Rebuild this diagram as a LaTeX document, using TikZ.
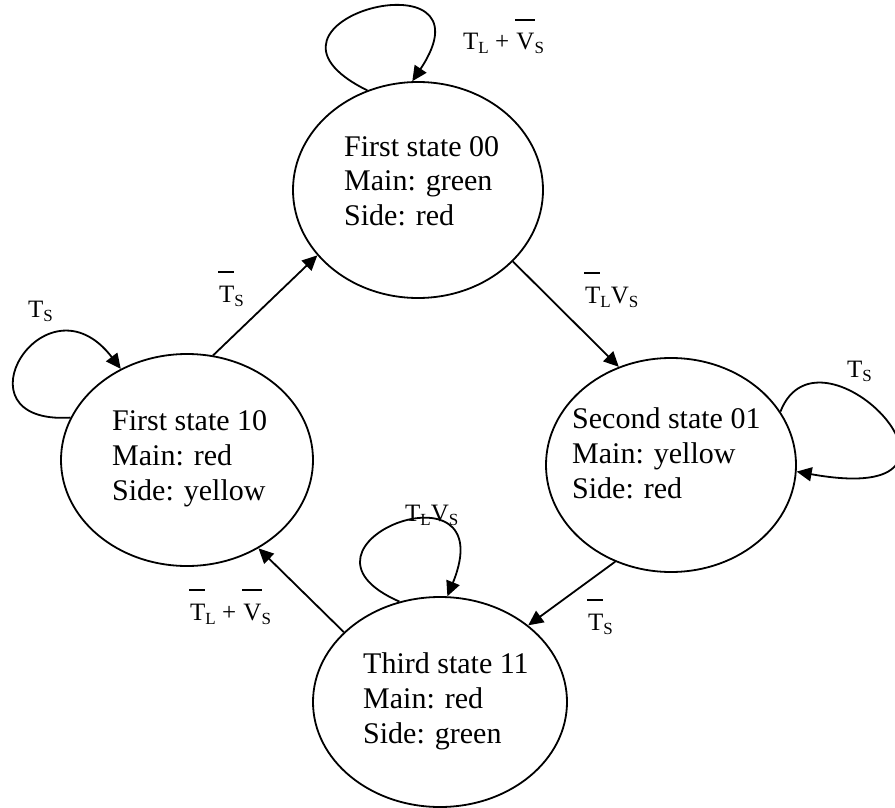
\documentclass[tikz,border=0pt]{standalone}
\usepackage{fontspec}
\setmainfont{Liberation Serif}
\usetikzlibrary{shapes.geometric,arrows.meta}
% barred symbol: a rule set well above the letter
\newcommand\ovl[1]{\leavevmode\vbox{\hrule height 1.6pt\kern 13pt\hbox{\kern1pt#1}}}
% lowered, smaller index letter
\newcommand\lsub[1]{\raisebox{-4pt}{\fontsize{17}{17}\selectfont #1}}
\begin{document}
\begin{tikzpicture}[x=1pt,y=-1pt,
  state/.style={draw, ellipse, line width=1.8pt, inner sep=0pt},
  statetext/.style={anchor=base west, inner sep=0pt, font=\fontsize{30}{35}\selectfont},
  cond/.style={anchor=base west, inner sep=0pt, font=\fontsize{25}{30}\selectfont},
  edge/.style={line width=1.8pt, -{Triangle[length=15pt,width=14pt]}}]
\useasboundingbox (0,0) rectangle (895,808);

% states
\node[state, minimum width=250pt, minimum height=216pt] (A) at (418,190) {};
\node[state, minimum width=250pt, minimum height=214pt] (B) at (671,465) {};
\node[state, minimum width=254pt, minimum height=210pt] (C) at (440,702) {};
\node[state, minimum width=252pt, minimum height=212pt] (D) at (187,460) {};

\node[statetext] (At) at (344,156) {\begin{tabular}[t]{@{}l@{}}First state 00\\Main: green\\Side: red\end{tabular}};
\node[statetext] (Bt) at (572,428) {\begin{tabular}[t]{@{}l@{}}Second state 01\\Main: yellow\\Side: red\end{tabular}};
\node[statetext] (Ct) at (363,673) {\begin{tabular}[t]{@{}l@{}}Third state 11\\Main: red\\Side: green\end{tabular}};
\node[statetext] (Dt) at (112,430) {\begin{tabular}[t]{@{}l@{}}First state 10\\Main: red\\Side: yellow\end{tabular}};

% transitions between states
\draw[edge] (A.-37) -- (B.118);
\draw[edge] (B.240) -- (C.41);
\draw[edge] (C.144) -- (D.-51);
\draw[edge] (D.76) -- (A.213);

% self loops
\draw[edge] (A.117) .. controls (225,20) and (500,-50) .. (A.93);
\draw[edge] (B.26) .. controls (820,310) and (1010,510) .. (B.-3);
\draw[edge] (C.112) .. controls (270,545) and (505,455) .. (C.86);
\draw[edge] (D.160) .. controls (-50,425) and (45,270) .. (D.126);

% conditions
\node[cond] (cA) at (463,50) {T\lsub{L} + \ovl{V}\lsub{S}};
\node[cond] (cB) at (847,377) {T\lsub{S}};
\node[cond] (cC) at (405,521) {T\lsub{L}V\lsub{S}};
\node[cond] (cD) at (28,317) {T\lsub{S}};
\node[cond] (cAB) at (584,303) {\ovl{T}\lsub{L}V\lsub{S}};
\node[cond] (cBC) at (587,630) {\ovl{T}\lsub{S}};
\node[cond] (cCD) at (189,620) {\ovl{T}\lsub{L} + \ovl{V}\lsub{S}};
\node[cond] (cDA) at (218,302) {\ovl{T}\lsub{S}};
\end{tikzpicture}
\end{document}
